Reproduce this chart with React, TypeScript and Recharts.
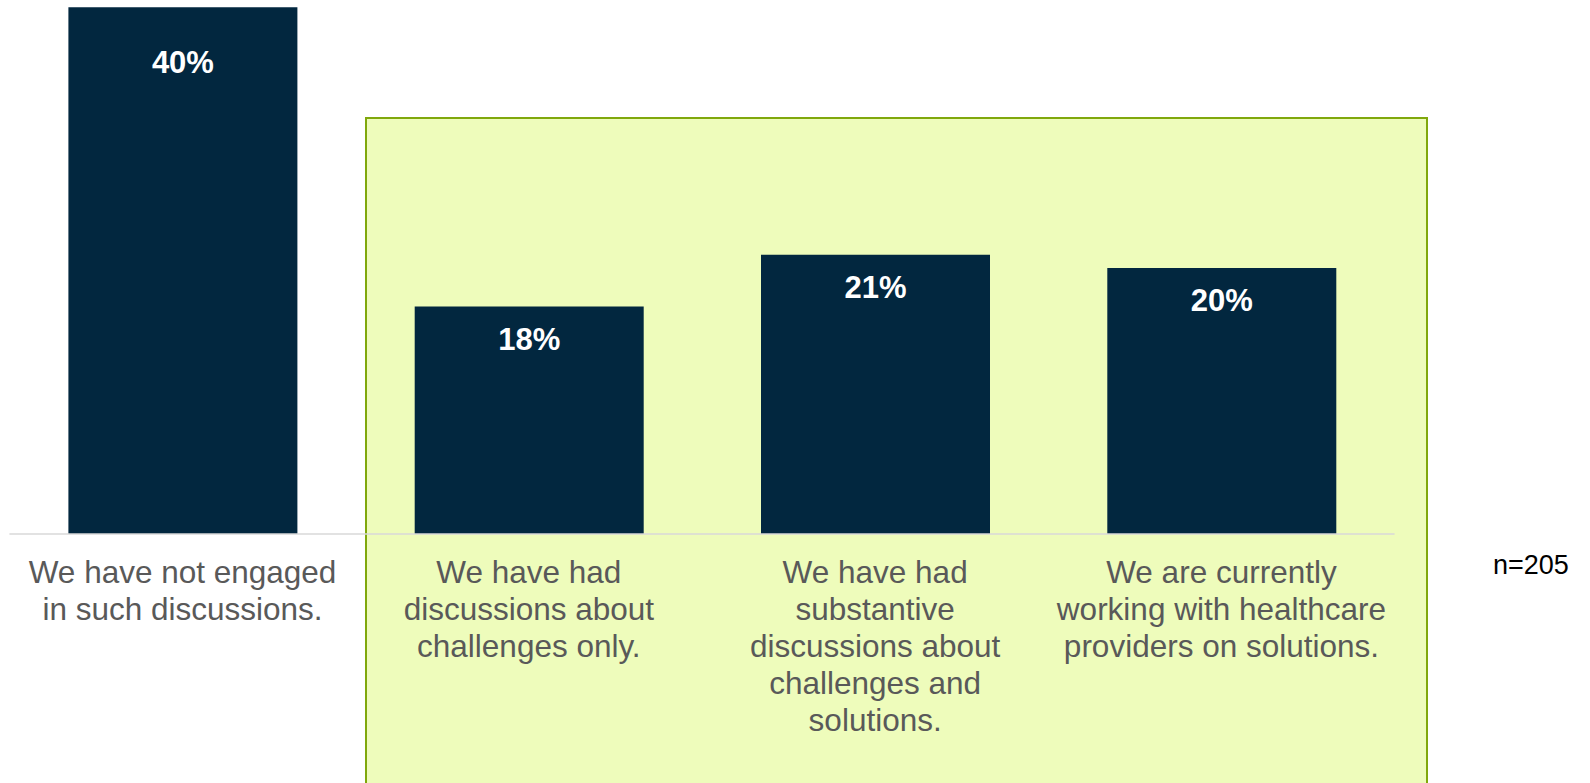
import { BarChart, Bar, XAxis, YAxis, LabelList } from 'recharts';

const categories = [
  'We have not engaged|in such discussions.',
  'We have had|discussions about|challenges only.',
  'We have had|substantive|discussions about|challenges and|solutions.',
  'We are currently|working with healthcare|providers on solutions.',
];
const shares = [39.6, 17.1, 21.0, 20.0];
const shareLabels = ['40%', '18%', '21%', '20%'];
const sampleNote = 'n=205';

const data = categories.map((c, i) => ({ category: c, share: shares[i], label: shareLabels[i] }));

const FONT = '"Liberation Sans", Arial, sans-serif';

function CategoryTick(props: any) {
  const { x, y, payload } = props;
  const lines = String(payload.value).split('|');
  return (
    <text x={x} y={y + 49} textAnchor="middle" fill="#595959" fontSize={31.5} fontFamily={FONT}>
      {lines.map((line, i) => (
        <tspan key={i} x={x} dy={i === 0 ? 0 : 37}>
          {line}
        </tspan>
      ))}
    </text>
  );
}

function ShareLabel(props: any) {
  const { x, y, width, value, index } = props;
  // the first bar's label sits lower in the source
  const offset = index === 0 ? 66 : 43;
  return (
    <text
      x={x + width / 2}
      y={y + offset}
      textAnchor="middle"
      fill="#ffffff"
      fontSize={31}
      fontWeight="bold"
      fontFamily={FONT}
    >
      {value}
    </text>
  );
}

export default function App() {
  return (
    <div style={{ position: 'absolute', left: 0, top: 0, width: 1590, height: 783, overflow: 'hidden', background: '#fff' }}>
      <div
        style={{
          position: 'absolute',
          left: 365,
          top: 117,
          width: 1063,
          height: 700,
          boxSizing: 'border-box',
          border: '2px solid #80a80c',
          background: '#eefcbb',
        }}
      />
      <div style={{ position: 'absolute', left: 0, top: 0 }}>
        <BarChart
          width={1590}
          height={783}
          data={data}
          margin={{ top: 2, right: 195.4, left: 9.4, bottom: 0 }}
        >
          <XAxis
            dataKey="category"
            tickLine={false}
            tickSize={0}
            tickMargin={0}
            axisLine={{ stroke: '#d9d9d9', strokeWidth: 1.5 }}
            tick={<CategoryTick />}
            interval={0}
            height={249}
          />
          <YAxis hide domain={[0, 40]} />
          <Bar dataKey="share" fill="#02273f" barSize={229} isAnimationActive={false}>
            <LabelList dataKey="label" content={<ShareLabel />} />
          </Bar>
        </BarChart>
      </div>
      <div
        style={{
          position: 'absolute',
          left: 1493,
          top: 548,
          fontFamily: FONT,
          fontSize: 27,
          color: '#000',
          lineHeight: '34px',
        }}
      >
        {sampleNote}
      </div>
    </div>
  );
}
